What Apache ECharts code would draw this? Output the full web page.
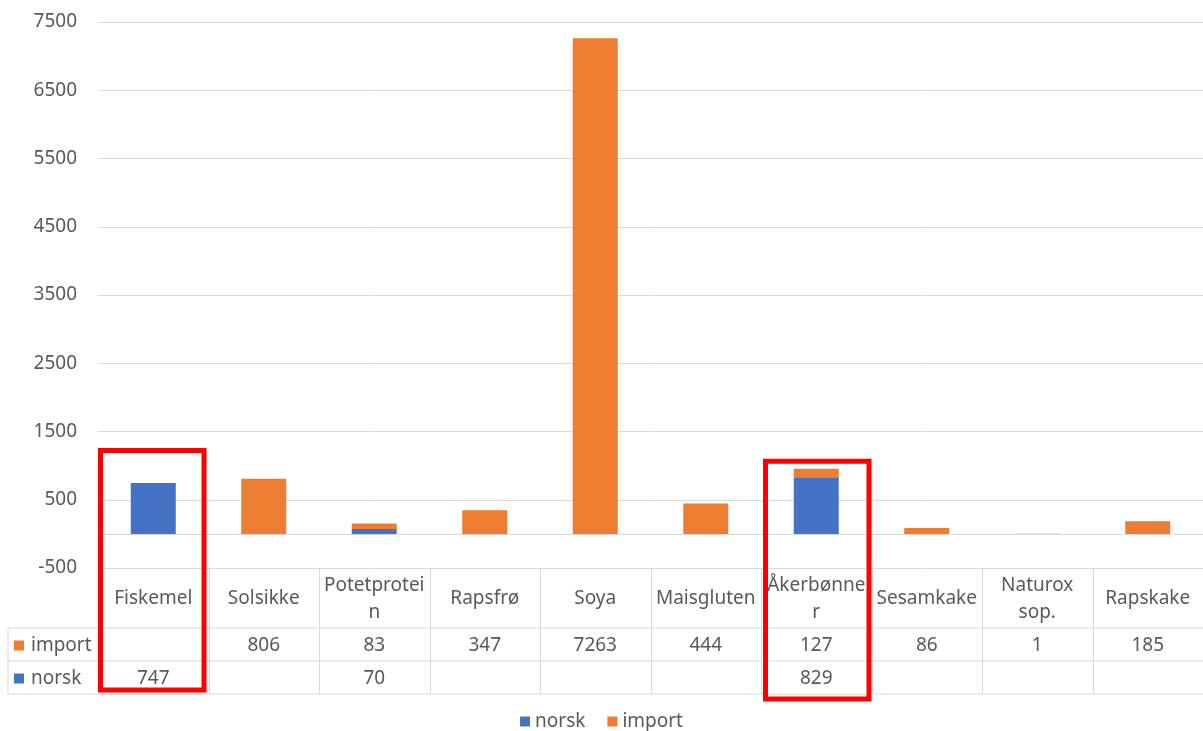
<!DOCTYPE html>
<html>
<head>
<meta charset="utf-8">
<script src="https://cdn.jsdelivr.net/npm/echarts@6/dist/echarts.min.js"></script>
<style>
    html, body { margin: 0; padding: 0; background: #fff; }
    #main { width: 1203px; height: 731px; }
</style>
</head>
<body>
<div id="main"></div>
<script>
    var categories = ['Fiskemel', 'Solsikke', 'Potetprotein', 'Rapsfrø', 'Soya', 'Maisgluten', 'Åkerbønner', 'Sesamkake', 'Naturox sop.', 'Rapskake'];
    var norsk = [747, null, 70, null, null, null, 829, null, null, null];
    var importValues = [null, 806, 83, 347, 7263, 444, 127, 86, 1, 185];
    var highlighted = ['Fiskemel', 'Åkerbønner'];

    var blue = '#4472C4';
    var orange = '#ED7D31';
    var textColor = '#595959';
    var lineColor = '#d9d9d9';
    var font = '"Noto Sans", sans-serif';
    var fontSize = 19;

    var myChart = echarts.init(document.getElementById('main'));

    var option = {
        animation: false,
        textStyle: { fontFamily: font },
        grid: { left: 98, right: 0, top: 22, bottom: 163 },
        legend: {
            data: ['norsk', 'import'],
            top: 707,
            icon: 'rect',
            itemWidth: 10,
            itemHeight: 10,
            itemGap: 22,
            textStyle: { color: textColor, fontSize: fontSize, fontFamily: font }
        },
        xAxis: {
            type: 'category',
            data: categories,
            axisLine: { onZero: true, lineStyle: { color: lineColor, width: 1 } },
            axisTick: { show: false },
            axisLabel: { show: false }
        },
        yAxis: {
            type: 'value',
            min: -500,
            max: 7500,
            interval: 1000,
            axisLine: { show: false },
            axisTick: { show: false },
            axisLabel: {
                color: textColor, fontSize: fontSize, margin: 21, fontFamily: font,
                formatter: function (v) { return String(v); }
            },
            splitLine: { lineStyle: { color: lineColor, width: 1 } }
        },
        series: [
            {
                name: 'norsk',
                type: 'bar',
                stack: 'total',
                barWidth: 45,
                itemStyle: { color: blue },
                data: norsk
            },
            {
                name: 'import',
                type: 'bar',
                stack: 'total',
                barWidth: 45,
                itemStyle: { color: orange },
                data: importValues
            }
        ]
    };
    myChart.setOption(option);

    // wrap like the spreadsheet does: at spaces, and mid-word when a word is too wide
    var ctx = document.createElement('canvas').getContext('2d');
    ctx.font = fontSize + 'px ' + font;
    function wrap(str, maxW) {
        var out = [];
        str.split(' ').forEach(function (word) {
            var cur = '';
            for (var i = 0; i < word.length; i++) {
                if (cur && ctx.measureText(cur + word[i]).width > maxW) {
                    out.push(cur);
                    cur = '';
                }
                cur += word[i];
            }
            out.push(cur);
        });
        return out.join('\n');
    }

    // data table under the plot, positioned from the axes
    var x0 = myChart.convertToPixel({ xAxisIndex: 0 }, categories[0]);
    var band = myChart.convertToPixel({ xAxisIndex: 0 }, categories[1]) - x0;
    var tableTop = myChart.convertToPixel({ yAxisIndex: 0 }, -500);
    var catRowH = 60, rowH = 33;
    var tableLeft = 8;
    var colLeft = x0 - band / 2;
    var right = 1203;
    var rowsTop = tableTop + catRowH;
    var tableBottom = rowsTop + rowH * 2;
    var g = [];

    function line(x1, y1, x2, y2) {
        g.push({
            type: 'line', z: 5, silent: true,
            shape: { x1: x1, y1: y1, x2: x2, y2: y2 },
            style: { stroke: lineColor, lineWidth: 1 }
        });
    }
    function text(str, x, y, extra) {
        var st = {
            text: str, x: x, y: y,
            fill: textColor, fontSize: fontSize, fontFamily: font,
            align: 'center', verticalAlign: 'middle', lineHeight: 27
        };
        for (var k in extra) st[k] = extra[k];
        g.push({ type: 'text', z: 6, silent: true, style: st });
    }

    line(tableLeft, rowsTop, right, rowsTop);
    line(tableLeft, rowsTop + rowH, right, rowsTop + rowH);
    line(tableLeft, tableBottom, right, tableBottom);
    line(tableLeft, rowsTop, tableLeft, tableBottom);
    for (var i = 0; i <= categories.length; i++) {
        var bx = Math.round(colLeft + i * band) + 0.5;
        line(bx, tableTop, bx, tableBottom);
    }

    var rows = [
        { name: 'import', color: orange, values: importValues },
        { name: 'norsk', color: blue, values: norsk }
    ];
    rows.forEach(function (row, r) {
        var cy = rowsTop + rowH * r + rowH / 2 + 1;
        g.push({
            type: 'rect', z: 6, silent: true,
            shape: { x: tableLeft + 6, y: cy - 5, width: 10, height: 10 },
            style: { fill: row.color }
        });
        text(row.name, tableLeft + 23, cy, { align: 'left' });
        row.values.forEach(function (v, j) {
            if (v != null) {
                text(String(v), myChart.convertToPixel({ xAxisIndex: 0 }, categories[j]), cy);
            }
        });
    });

    categories.forEach(function (c) {
        text(wrap(c, band - 6), myChart.convertToPixel({ xAxisIndex: 0 }, c), tableTop + catRowH / 2 + 1);
    });

    // red highlight boxes around two columns
    var boxTops = [1220, 1065];
    highlighted.forEach(function (c, k) {
        var cx = myChart.convertToPixel({ xAxisIndex: 0 }, c);
        var top = myChart.convertToPixel({ yAxisIndex: 0 }, boxTops[k]);
        var bottom = k === 0 ? tableBottom - 4 : tableBottom + 5;
        var x = k === 0 ? cx - band / 2 + 2.5 : cx - band / 2 + 4.5;
        g.push({
            type: 'rect', z: 10, silent: true,
            shape: { x: x, y: top, width: band - 7, height: bottom - top },
            style: { fill: 'none', stroke: '#FF0000', lineWidth: 5 }
        });
    });

    myChart.setOption({ graphic: g });
</script>
</body>
</html>
